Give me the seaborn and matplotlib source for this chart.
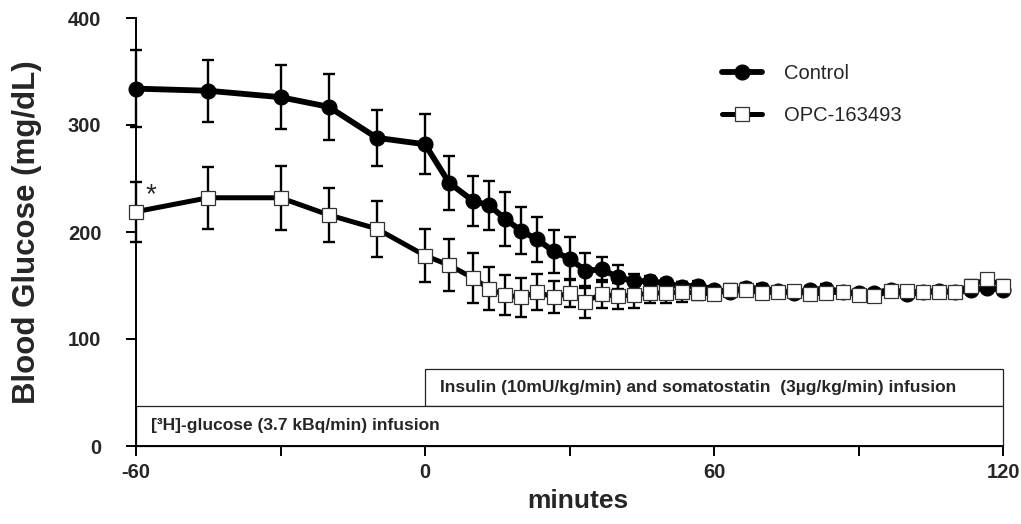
import matplotlib
matplotlib.use("Agg")
import matplotlib.pyplot as plt
from matplotlib.patches import Rectangle
import seaborn as sns
import pandas as pd

# ---------------- data ----------------
minutes = [-60, -45, -30, -20, -10, 0, 5, 10, 13.3, 16.7, 20, 23.3, 26.7, 30,
           33.3, 36.7, 40, 43.3, 46.7, 50, 53.3, 56.7, 60, 63.3, 66.7, 70,
           73.3, 76.7, 80, 83.3, 86.7, 90, 93.3, 96.7, 100, 103.3, 106.7, 110,
           113.3, 116.7, 120]

control_mean = [334, 332, 326, 317, 288, 282, 246, 229, 225, 212, 201, 193, 182,
                175, 164, 165, 158, 154, 154, 152, 149, 150, 146, 144, 148, 147,
                145, 143, 146, 147, 144, 143, 143, 146, 142, 144, 145, 144, 146,
                148, 146]
control_sem = [36, 29, 30, 31, 26, 28, 25, 23, 23, 25, 22, 21, 20, 20, 16, 12,
               11, 7, 5, 4, 4, 4, 4, 4, 4, 4, 4, 4, 4, 4, 4, 4, 4, 4, 4, 4, 4,
               4, 4, 4, 4]

opc_mean = [219, 232, 232, 216, 203, 178, 169, 157, 147, 141, 139, 144, 139,
            143, 135, 142, 140, 141, 143, 143, 144, 143, 142, 146, 146, 143,
            144, 145, 142, 143, 144, 141, 140, 145, 145, 144, 144, 144, 150,
            156, 150]
opc_sem = [28, 29, 30, 25, 26, 25, 24, 23, 20, 19, 18, 17, 15, 13, 15, 13, 12,
           12, 9, 9, 9, 7, 5, 5, 5, 5, 5, 5, 5, 5, 5, 5, 5, 5, 5, 5, 5, 5, 5,
           5, 5]

series_labels = ["Control", "OPC-163493"]
x_major_ticks = [-60, 0, 60, 120]
x_minor_ticks = [-30, 30, 90]
y_ticks = [0, 100, 200, 300, 400]

# annotation boxes (x0, x1, y0, y1, text)
insulin_box = (0, 120, 37.5, 72, "Insulin (10mU/kg/min) and somatostatin  (3\u00b5g/kg/min) infusion")
glucose_box = (-60, 120, 0, 37.5, "[\u00b3H]-glucose (3.7 kBq/min) infusion")
asterisk_pos = (-57, 234)

df = pd.DataFrame({"minutes": minutes, "control": control_mean, "opc": opc_mean})

# ---------------- style ----------------
sns.set_style("ticks")
plt.rcParams["font.family"] = ["Liberation Sans", "DejaVu Sans"]

fig = plt.figure(figsize=(10.21, 5.24), dpi=100)
ax = fig.add_axes([136 / 1021, 78 / 524, 867 / 1021, 428 / 524])

# Control
ax.errorbar(minutes, control_mean, yerr=control_sem, fmt="none", ecolor="black",
            elinewidth=1.7, capsize=4.5, capthick=1.7, zorder=2, clip_on=False)
sns.lineplot(data=df, x="minutes", y="control", ax=ax, color="black", lw=4.2,
             marker="o", markersize=10.8, markerfacecolor="black",
             markeredgecolor="black", label=series_labels[0], zorder=3)
# OPC
ax.errorbar(minutes, opc_mean, yerr=opc_sem, fmt="none", ecolor="black",
            elinewidth=1.7, capsize=4.5, capthick=1.7, zorder=4, clip_on=False)
sns.lineplot(data=df, x="minutes", y="opc", ax=ax, color="black", lw=3.6,
             marker="s", markersize=10.6, markerfacecolor="white",
             markeredgecolor="#333333", markeredgewidth=0.9,
             label=series_labels[1], zorder=5)
for ln in ax.lines:
    ln.set_clip_on(False)
for c in ax.collections:
    c.set_clip_on(False)

# boxes
for (x0, x1, y0, y1, txt) in [insulin_box, glucose_box]:
    ax.add_patch(Rectangle((x0, y0), x1 - x0, y1 - y0, facecolor="white",
                           edgecolor="#222222", lw=0.9, zorder=1.5, clip_on=False))
    ax.text(x0 + 3.2, (y0 + y1) / 2, txt, fontsize=12.5, fontweight="bold",
            ha="left", va="center", zorder=1.6)

ax.text(asterisk_pos[0], asterisk_pos[1], "*", fontsize=20, ha="center",
        va="center")

ax.set_xlim(-60, 120)
ax.set_ylim(0, 400)
ax.set_xticks(x_major_ticks)
ax.set_xticks(x_minor_ticks, minor=True)
ax.set_yticks(y_ticks)
ax.set_xticklabels([str(t) for t in x_major_ticks])
ax.tick_params(axis="both", which="both", direction="out", length=7, width=1.4,
               color="black", labelsize=14.5)
ax.tick_params(axis="y", pad=18)
ax.tick_params(axis="x", pad=5)
for lab in ax.get_xticklabels() + ax.get_yticklabels():
    lab.set_fontweight("bold")

for s in ["top", "right"]:
    ax.spines[s].set_visible(False)
for s in ["left", "bottom"]:
    ax.spines[s].set_linewidth(1.4)
    ax.spines[s].set_color("black")

ax.set_xlabel("minutes", fontsize=19, fontweight="bold")
ax.set_ylabel("Blood Glucose (mg/dL)", fontsize=22.5, fontweight="bold")
ax.xaxis.set_label_coords(0.51, -0.1)
ax.yaxis.set_label_coords(-0.108, 0.5)

handles, labels = ax.get_legend_handles_labels()
ax.legend(handles, labels, loc="upper left", frameon=False, fontsize=14.5,
          bbox_to_anchor=(722 / 1021, (524 - 64) / 524),
          bbox_transform=fig.transFigure, borderpad=0, borderaxespad=0,
          handlelength=2.0, handletextpad=1.1, labelspacing=1.15)

fig.savefig("out.png", dpi=100)
